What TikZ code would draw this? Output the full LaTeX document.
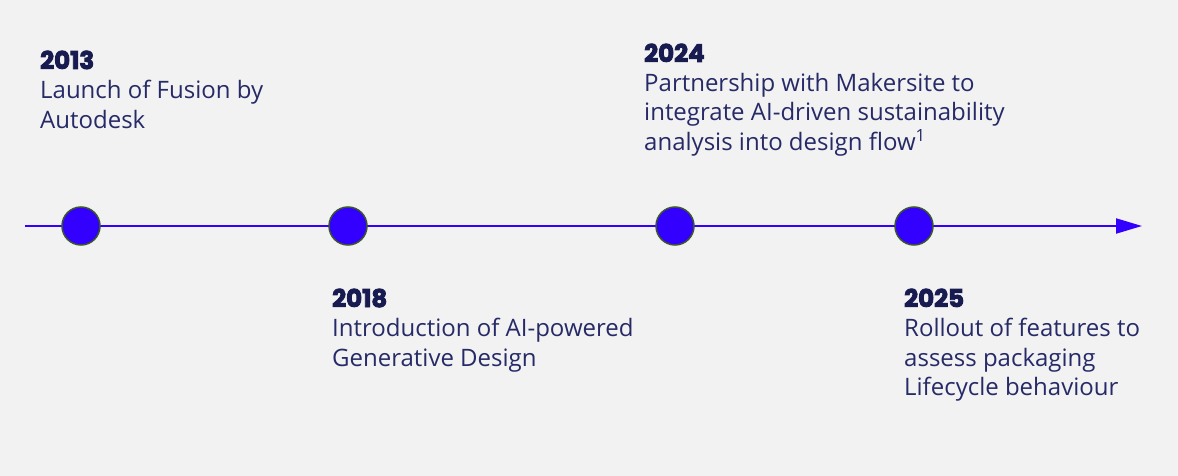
\documentclass[tikz,border=0pt]{standalone}
\usepackage{fontspec}
\setmainfont{Open Sans}
\newfontfamily\yearfont{Poppins}[BoldFont={* Bold}, BoldFeatures={FakeBold=3.5}]
\usetikzlibrary{positioning,arrows.meta}

\definecolor{bgGray}{HTML}{F2F2F2}
\definecolor{lineBlue}{HTML}{3300FF}
\definecolor{rimGreen}{HTML}{3A5530}
\definecolor{textNavy}{HTML}{262A66}
\definecolor{yearNavy}{HTML}{181B50}

\begin{document}
\begin{tikzpicture}[
    x=1pt, y=-1pt,
    milestone/.style={circle, draw=rimGreen, line width=1.5pt, fill=lineBlue, inner sep=0pt, minimum size=38pt},
    year/.style={anchor=base west, inner sep=0pt, text=yearNavy, font={\yearfont\bfseries\fontsize{24.5}{28}\selectfont}},
    event/.style={inner sep=0pt, align=left, text=textNavy, font={\fontsize{24}{29.5}\selectfont}},
    >={Triangle[length=26pt, width=15pt]}
]

% background and page size
\fill[bgGray] (0,0) rectangle (1178,476);
\useasboundingbox (0,0) rectangle (1178,476);

% Time axis
\coordinate (start) at (25,226);
\coordinate (end) at (1142,226);
\draw[->, lineBlue, line width=2pt] (start) -- (end);

% Milestones
\node[milestone] (M1) at (81,226) {};
\node[milestone] (M2) at (348,226) {};
\node[milestone] (M3) at (675,226) {};
\node[milestone] (M4) at (914,226) {};

% Labels above the axis
\node[year] (Y1) at (40,69) {2013};
\node[event, below=11pt of Y1.base west, anchor=north west] (E1) {Launch of Fusion by\\Autodesk};

\node[year] (Y3) at (644,62) {2024};
\node[event, below=11pt of Y3.base west, anchor=north west] (E3) {Partnership with Makersite to\\integrate AI-driven sustainability\\analysis into design flow\textsuperscript{1}};

% Labels below the axis
\node[year] (Y2) at (332,307) {2018};
\node[event, below=11pt of Y2.base west, anchor=north west] (E2) {Introduction of AI-powered\\Generative Design};

\node[year] (Y4) at (904,307) {2025};
\node[event, below=11pt of Y4.base west, anchor=north west] (E4) {Rollout of features to\\assess packaging\\Lifecycle behaviour};

\end{tikzpicture}
\end{document}
